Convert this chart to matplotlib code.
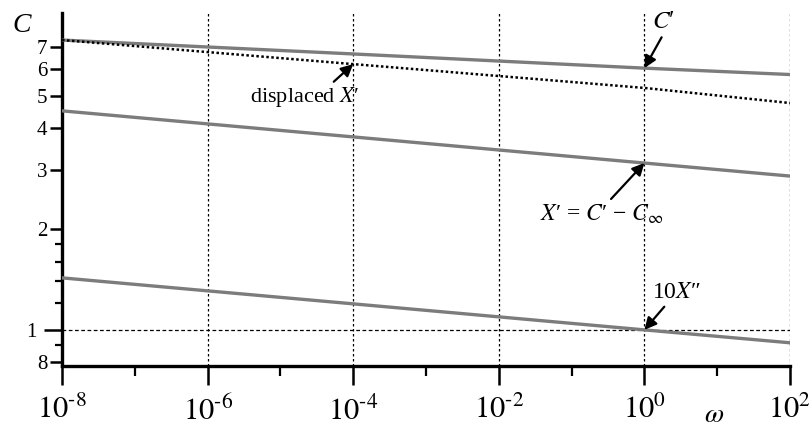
import matplotlib
matplotlib.use('Agg')
import matplotlib.pyplot as plt
from matplotlib.ticker import FixedLocator, FixedFormatter, NullLocator, NullFormatter

plt.rcParams['font.family'] = ['Liberation Serif', 'DejaVu Serif']
plt.rcParams['mathtext.fontset'] = 'stix'

# values (log-log, straight lines)
omega = [1e-8, 1e-4, 1e0, 1e2]
c_prime = [7.34, 6.67, 6.05, 5.79]
displaced_x = [7.34, 6.22, 5.28, 4.76]
x_prime = [4.51, 3.77, 3.15, 2.88]
ten_x2 = [1.43, 1.196, 1.0, 0.915]

x_major = [1e-8, 1e-6, 1e-4, 1e-2, 1e0, 1e2]
x_labels = [r'$10^{\text{-}8}$', r'$10^{\text{-}6}$', r'$10^{\text{-}4}$',
            r'$10^{\text{-}2}$', r'$10^{0}$', r'$10^{2}$']
x_minor = [1e-7, 1e-5, 1e-3, 1e-1, 1e1]
x_grid = [1e-6, 1e-4, 1e-2, 1e0, 1e2]
y_major = [0.8, 2, 3, 4, 5, 6, 7]
y_labels = ['8', '2', '3', '4', '5', '6', '7']
y_minor = [0.9, 1.2, 1.4, 1.6, 1.8]

fig = plt.figure(figsize=(8.11, 4.29), dpi=100)
ax = fig.add_axes([62 / 811, 63 / 429, 728 / 811, 353 / 429])
ax.set_xscale('log')
ax.set_yscale('log')
ax.set_xlim(1e-8, 1e2)
ax.set_ylim(0.78, 8.84)

for s in ['top', 'right']:
    ax.spines[s].set_visible(False)
for s in ['left', 'bottom']:
    ax.spines[s].set_linewidth(2.4)

# grid: dotted verticals at even decades, one horizontal at C = 1
for gx in x_grid:
    ax.axvline(gx, color='k', lw=0.9, ls=(0, (2, 2)), zorder=1)
ax.axhline(1.0, color='k', lw=0.9, ls=(0, (3, 2)), zorder=1)

gray = '#7c7c7c'
ax.plot(omega, c_prime, color=gray, lw=2.4, zorder=3)
ax.plot(omega, displaced_x, color='k', lw=1.8, ls=(0, (1, 1)), zorder=3)
ax.plot(omega, x_prime, color=gray, lw=2.4, zorder=3)
ax.plot(omega, ten_x2, color=gray, lw=2.4, zorder=3)

# ticks
ax.xaxis.set_major_locator(FixedLocator(x_major))
ax.xaxis.set_major_formatter(FixedFormatter(x_labels))
ax.xaxis.set_minor_locator(FixedLocator(x_minor))
ax.xaxis.set_minor_formatter(NullFormatter())
ax.tick_params(axis='x', which='major', length=13.5, width=1.8, pad=8, labelsize=22)
ax.tick_params(axis='x', which='minor', length=7, width=1.6)

ax.yaxis.set_major_locator(FixedLocator(y_major))
ax.yaxis.set_major_formatter(FixedFormatter(y_labels))
ax.yaxis.set_minor_locator(FixedLocator(y_minor))
ax.yaxis.set_minor_formatter(NullFormatter())
ax.tick_params(axis='y', which='major', length=9, width=1.8, pad=1.5, labelsize=15)
ax.tick_params(axis='y', which='minor', length=5, width=1.6)

# the "1" tick is longer than the others
sec = ax.secondary_yaxis('left')
sec.yaxis.set_major_locator(FixedLocator([1.0]))
sec.yaxis.set_major_formatter(FixedFormatter(['1']))
sec.yaxis.set_minor_locator(NullLocator())
sec.spines['left'].set_visible(False)
sec.tick_params(axis='y', which='major', length=13, width=1.8, pad=5, labelsize=15)

# annotations
arrow = dict(arrowstyle='-|>', color='k', lw=1.6, mutation_scale=18, shrinkA=1, shrinkB=0)
ax.annotate('$C$\u2032', xy=(omega[2], c_prime[2]), xytext=(14, 33), textcoords='offset points',
            ha='center', va='center', fontsize=18,
            arrowprops=dict(arrow, relpos=(0.5, 0.0)))
ax.annotate('displaced $X$\u2032', xy=(omega[1], 6.22), xytext=(-35, -24), textcoords='offset points',
            ha='center', va='center', fontsize=16,
            arrowprops=dict(arrow, relpos=(0.73, 1.0)))
ax.annotate('$X$\u2032 = $C$\u2032 \u2212 $C_{\\infty}$', xy=(omega[2], x_prime[2]), xytext=(-31, -37),
            textcoords='offset points', ha='center', va='center', fontsize=17,
            arrowprops=dict(arrow, relpos=(0.55, 1.0)))
ax.annotate('10$X$\u2033', xy=(omega[2], ten_x2[2]), xytext=(23, 27), textcoords='offset points',
            ha='center', va='center', fontsize=17,
            arrowprops=dict(arrow, relpos=(0.32, 0.0)))

fig.text(22 / 811, 1 - 32 / 429, 'C', fontsize=20, style='italic', ha='center', va='baseline')
fig.text(714 / 811, 1 - 422 / 429, r'$\omega$', fontsize=20, ha='center', va='baseline')

fig.savefig('out.png', dpi=100)
